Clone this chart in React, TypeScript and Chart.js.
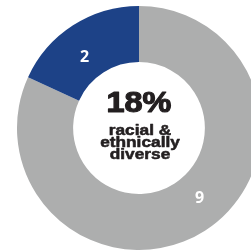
import React, { useEffect, useRef } from "react";
import { Chart, registerables } from "chart.js";

Chart.register(...registerables);

const categories = ["Not racially or ethnically diverse", "Racial & ethnically diverse"];
const values = [9, 2];
const colors = ["#adaeae", "#1d4287"];
const centerLines = ["racial &", "ethnically", "diverse"];

const labelPlugin = {
  id: "sliceLabels",
  afterDatasetsDraw(chart: any) {
    const ctx = chart.ctx;
    const meta = chart.getDatasetMeta(0);
    const fracs = [0.471, 0.433];
    const radii = [92, 90];
    ctx.save();
    ctx.fillStyle = "#ffffff";
    ctx.font = "bold 16px 'Open Sans'";
    ctx.textAlign = "center";
    ctx.textBaseline = "middle";
    meta.data.forEach((arc: any, i: number) => {
      const p = arc.getProps(["x", "y", "startAngle", "endAngle", "innerRadius", "outerRadius"], true);
      const a = p.startAngle + (p.endAngle - p.startAngle) * fracs[i];
      const r = radii[i];
      ctx.fillText(String(values[i]), p.x + Math.cos(a) * r, p.y + Math.sin(a) * r + 1);
    });
    ctx.restore();
  },
};

const centerPlugin = {
  id: "centerText",
  afterDraw(chart: any) {
    const ctx = chart.ctx;
    const arc = chart.getDatasetMeta(0).data[0] as any;
    const cx = arc.x;
    const cy = arc.y;
    const total = values.reduce((s, v) => s + v, 0);
    const pct = Math.round((values[1] / total) * 100) + "%";
    ctx.save();
    ctx.fillStyle = "#231f20";
    ctx.strokeStyle = "#231f20";
    ctx.lineJoin = "round";
    ctx.textAlign = "center";
    ctx.textBaseline = "alphabetic";
    ctx.save();
    ctx.translate(cx, cy - 16);
    ctx.scale(1.08, 1);
    ctx.font = "bold 30px 'Liberation Sans', Arial, sans-serif";
    ctx.lineWidth = 1.2;
    ctx.fillText(pct, 0, 0);
    ctx.strokeText(pct, 0, 0);
    ctx.restore();
    centerLines.forEach((t, i) => {
      ctx.save();
      ctx.translate(cx + 1, cy + 7 + i * 12);
      ctx.scale(1.08, 0.9);
      ctx.font = "bold 16px 'Liberation Sans', Arial, sans-serif";
      ctx.lineWidth = 0.6;
      ctx.fillText(t, 0, 0);
      ctx.strokeText(t, 0, 0);
      ctx.restore();
    });
    ctx.restore();
  },
};

export default function App() {
  const ref = useRef<HTMLCanvasElement>(null);
  useEffect(() => {
    if (!ref.current) return;
    const chart = new Chart(ref.current, {
      type: "doughnut",
      data: {
        labels: categories,
        datasets: [
          {
            data: values,
            backgroundColor: colors,
            borderWidth: 0,
          },
        ],
      },
      options: {
        responsive: false,
        animation: false,
        cutout: "54%",
        layout: { padding: 0 },
        plugins: {
          legend: { display: false },
          tooltip: { enabled: false },
        },
      },
      plugins: [labelPlugin, centerPlugin],
    });
    return () => chart.destroy();
  }, []);
  return (
    <div
      style={{
        position: "fixed",
        left: 0,
        top: 0,
        width: 251,
        height: 250,
        overflow: "hidden",
        background: "#ffffff",
      }}
    >
      <div style={{ position: "absolute", left: 17, top: 6, width: 244, height: 244 }}>
        <canvas ref={ref} width={244} height={244} />
      </div>
    </div>
  );
}
